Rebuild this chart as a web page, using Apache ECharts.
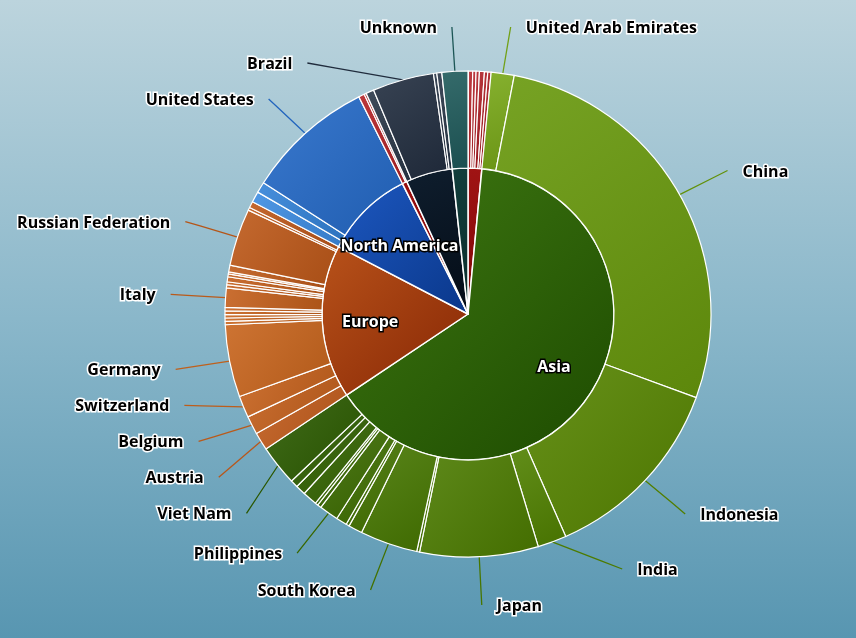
<!DOCTYPE html>
<html><head><meta charset="utf-8">
<script src="https://cdn.jsdelivr.net/npm/echarts@6/dist/echarts.min.js"></script>
<style>html,body{margin:0;padding:0;background:#fff}#c{width:856px;height:638px}</style>
</head><body><div id="c"></div>
<script>
// ---- data ----
const continents = ['Africa','Asia','Europe','North America','Oceania','South America','Unknown'];
const continentValues = [1.52, 64.08, 17.00, 9.94, 0.53, 5.16, 1.72];

const africaCountries = ['Algeria','Egypt','Kenya','Morocco','Nigeria','Tunisia','South Africa'];
const africaValues = [0.03, 0.28, 0.22, 0.22, 0.33, 0.22, 0.22];
const asiaCountries = ['United Arab Emirates','China','Indonesia','India','Japan','Cambodia','South Korea','Sri Lanka','Myanmar','Malaysia','Philippines','Pakistan','Qatar','Saudi Arabia','Singapore','Thailand','Viet Nam'];
const asiaValues = [1.53, 27.53, 12.81, 1.92, 7.86, 0.19, 3.83, 0.92, 0.22, 0.72, 1.28, 0.25, 0.19, 0.97, 0.67, 0.50, 2.69];
const europeCountries = ['Austria','Belgium','Switzerland','Germany','Denmark','Spain','Finland','France','United Kingdom','Italy','Luxembourg','Netherlands','Norway','Poland','Portugal','Romania','Russian Federation','Sweden','Ukraine'];
const europeValues = [1.19, 1.22, 1.44, 4.81, 0.22, 0.22, 0.22, 0.25, 0.22, 1.28, 0.22, 0.19, 0.33, 0.19, 0.14, 0.44, 3.81, 0.19, 0.42];
const northAmericaCountries = ['Canada','Mexico','United States'];
const northAmericaValues = [0.72, 0.72, 8.50];
const oceaniaCountries = ['Australia','New Zealand'];
const oceaniaValues = [0.39, 0.14];
const southAmericaCountries = ['Argentina','Brazil','Chile','Colombia'];
const southAmericaValues = [0.53, 4.08, 0.22, 0.33];
const unknownCountries = ['Unknown'];
const unknownValues = [1.72];

// ---- styles ----
const innerColors = [
  ['#a01414','#7e0606'], ['#3f7812','#1d4b00'], ['#b8521a','#862604'], ['#1d58c0','#0a378a'],
  ['#9a1010','#7a0505'], ['#0f1e2e','#040c16'], ['#123e3c','#0a2c2a']
];
const outerStops = [
  [[0,'#b8262c'],[1,'#a81a20']],
  [[0,'#78a818'],[0.0625,'#68990c'],[0.125,'#568500'],[0.25,'#4c7c00'],[1,'#2c5c00']],
  [[0,'#c25c1b'],[0.17,'#c9651c'],[1,'#bd5719']],
  [[0,'#3c8ce2'],[0.5,'#3282d8'],[1,'#246ac8']],
  [[0,'#b42226'],[1,'#a01818']],
  [[0,'#2a3748'],[0.33,'#222e40'],[1,'#283546']],
  [[0,'#1f5a5b'],[1,'#1f5a5b']]
];
function hex2rgb(h){return [parseInt(h.substr(1,2),16),parseInt(h.substr(3,2),16),parseInt(h.substr(5,2),16)];}
function toHex(a){return '#'+a.map(v=>Math.round(v).toString(16).padStart(2,'0')).join('');}
function mixHex(a,b,t){const A=hex2rgb(a),B=hex2rgb(b);return toHex(A.map((v,i)=>v+(B[i]-v)*t));}
function stopColor(stops,t){
  for(let k=0;k<stops.length-1;k++){
    if(t<=stops[k+1][0]){const u=(t-stops[k][0])/((stops[k+1][0]-stops[k][0])||1);return mixHex(stops[k][1],stops[k+1][1],u);}
  }
  return stops[stops.length-1][1];
}
function shade(c,f){return toHex(hex2rgb(c).map(v=>Math.max(0,Math.min(255,f>0? v+(255-v)*f : v*(1+f)))));}
function grad(c1,c2){return {type:'linear',x:0,y:0,x2:1,y2:1,colorStops:[{offset:0,color:c1},{offset:1,color:c2}]};}

const groups = [
  [africaCountries, africaValues], [asiaCountries, asiaValues], [europeCountries, europeValues],
  [northAmericaCountries, northAmericaValues], [oceaniaCountries, oceaniaValues],
  [southAmericaCountries, southAmericaValues], [unknownCountries, unknownValues]
];

const innerData = continents.map((n,i)=>({
  name:n, value:continentValues[i],
  itemStyle:{color:grad(innerColors[i][0], innerColors[i][1])}
}));
const outerData = [];
groups.forEach((g,gi)=>{
  const names=g[0], vals=g[1];
  names.forEach((n,j)=>{
    const t = names.length>1 ? j/(names.length-1) : 0;
    const base = stopColor(outerStops[gi], t);
    outerData.push({
      name:n, value:vals[j],
      itemStyle:{color:grad(shade(base,0.1), shade(base,-0.12))},
      labelLine:{lineStyle:{color:shade(base,-0.05)}}
    });
  });
});

// ---- label distribution (Highcharts-like) ----
const C = [468, 314];
const R_LAB = 292, R_X = 298, GAP = 15, SLOT = 36, TOP_B = 27, BOT_B = 605, MIN_ANG = 4;
function computeLabels(){
  const total = outerData.reduce((s,d)=>s+d.value,0);
  let acc = 0;
  const items = [];
  outerData.forEach((d,i)=>{
    const ang = d.value/total*360;
    const mid = acc + ang/2; acc += ang;
    if (ang < MIN_ANG) return;
    const rad = mid*Math.PI/180, s=Math.sin(rad), c=Math.cos(rad);
    items.push({i, left:s<0, nx:C[0]+R_X*s, ny:C[1]-R_LAB*c});
  });
  const res = {};
  [true,false].forEach(left=>{
    const list = items.filter(it=>it.left===left).sort((a,b)=>a.ny-b.ny);
    let cl = list.map(it=>({items:[it], y:Math.min(BOT_B, Math.max(TOP_B, it.ny))}));
    let changed = true;
    while(changed){
      changed=false;
      for(let k=0;k<cl.length-1;k++){
        const a=cl[k], b=cl[k+1];
        if (a.y + a.items.length*SLOT > b.y + 0.001){
          const m = a.items.concat(b.items);
          const mean = m.reduce((s,it)=>s+it.ny,0)/m.length;
          let y = mean - (m.length-1)*SLOT/2;
          y = Math.max(TOP_B, Math.min(BOT_B-(m.length-1)*SLOT, y));
          cl.splice(k,2,{items:m,y}); changed=true; break;
        }
      }
    }
    cl.forEach(c0=>c0.items.forEach((it,j)=>{
      const y = c0.y + j*SLOT;
      const dy = y - C[1];
      let x = it.nx;
      if (Math.abs(y-it.ny) > 4 && Math.abs(dy) < 0.93*R_X){
        const dx = Math.sqrt(R_X*R_X - dy*dy);
        x = C[0] + (left ? -dx : dx);
      }
      res[it.i] = {x, y, left};
    }));
  });
  return res;
}
const labelPos = computeLabels();

const chart = echarts.init(document.getElementById('c'));
chart.setOption({
  animation:false,
  backgroundColor:{type:'linear',x:0,y:0,x2:0,y2:1,colorStops:[{offset:0,color:'#bcd4dd'},{offset:0.5,color:'#8ab7ca'},{offset:1,color:'#5896b1'}]},
  textStyle:{fontFamily:'Open Sans'},
  series:[
    {
      type:'pie', center:C, radius:[0,146], startAngle:90, clockwise:true, silent:true,
      itemStyle:{borderColor:'#ffffff', borderWidth:1.5},
      label:{show:false}, labelLine:{show:false},
      data:innerData
    },
    {
      type:'pie', center:C, radius:[46,146], startAngle:90, clockwise:true, silent:true,
      minShowLabelAngle:30,
      itemStyle:{color:'rgba(0,0,0,0)', borderWidth:0},
      label:{show:true, position:'inside', color:'#ffffff', fontFamily:'Open Sans', fontWeight:'bold', fontSize:16,
        textBorderColor:'#000000', textBorderWidth:3, offset:[1,3]},
      labelLine:{show:false},
      data:continents.map((n,i)=>({name:n, value:continentValues[i]}))
    },
    {
      type:'pie', center:C, radius:[146,243], startAngle:90, clockwise:true, silent:true,
      minShowLabelAngle:MIN_ANG, avoidLabelOverlap:false,
      itemStyle:{borderColor:'#ffffff', borderWidth:1.2},
      label:{show:true, position:'outside', color:'#000000', fontFamily:'Open Sans', fontWeight:'bold', fontSize:16,
        textBorderColor:'#ffffff', textBorderWidth:3},
      labelLine:{show:true, length:44, length2:6, lineStyle:{width:1.3}},
      labelLayout:function(p){
        const lp = labelPos[p.dataIndex];
        if(!lp || !p.labelLinePoints) return {};
        const e = p.labelLinePoints[0];
        const mx = e[0]+(lp.x-e[0])*0.7, my = e[1]+(lp.y-e[1])*0.7;
        return {
          x: lp.left ? lp.x-GAP : lp.x+GAP,
          y: lp.y+1.5,
          align: lp.left ? 'right' : 'left',
          verticalAlign:'middle',
          labelLinePoints:[[e[0],e[1]],[mx,my],[lp.x,lp.y]]
        };
      },
      data:outerData
    }
  ]
});
</script></body></html>
